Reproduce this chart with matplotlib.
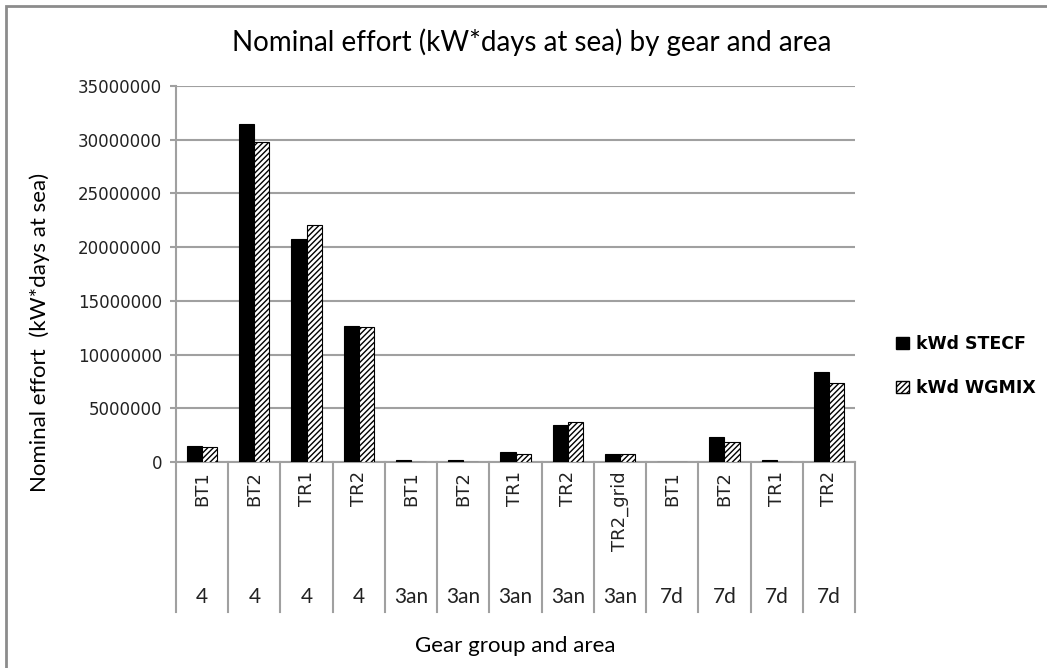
import matplotlib
matplotlib.use('Agg')
import matplotlib.pyplot as plt
from matplotlib.patches import Patch, Rectangle
from matplotlib.transforms import blended_transform_factory
import numpy as np

gears = ['BT1', 'BT2', 'TR1', 'TR2', 'BT1', 'BT2', 'TR1', 'TR2', 'TR2_grid',
         'BT1', 'BT2', 'TR1', 'TR2']
areas = ['4', '4', '4', '4', '3an', '3an', '3an', '3an', '3an',
         '7d', '7d', '7d', '7d']
kwd_stecf = [1500000, 31500000, 20800000, 12700000, 200000, 150000, 900000,
             3450000, 750000, 0, 2350000, 150000, 8400000]
kwd_wgmix = [1350000, 29800000, 22100000, 12600000, 0, 0, 700000,
             3750000, 750000, 0, 1900000, 0, 7350000]

grid_col = '#a0a0a0'
calibri = ['Lato', 'DejaVu Sans']

fig = plt.figure(figsize=(10.47, 6.68), dpi=100)
ax = fig.add_axes([176 / 1047, 1 - 462 / 668, 679 / 1047, 376 / 668])

x = np.arange(len(gears))
w = 0.29
ax.bar(x - w / 2, kwd_stecf, w, color='black', edgecolor='black', lw=0.8,
       zorder=3)
ax.bar(x + w / 2, kwd_wgmix, w, color='white', edgecolor='black', lw=0.8,
       hatch='//////', zorder=3)

ax.set_xlim(-0.5, len(gears) - 0.5)
ax.set_ylim(0, 35000000)
ax.set_yticks(np.arange(0, 35000001, 5000000))
ax.set_yticklabels([str(v) for v in range(0, 35000001, 5000000)],
                   fontsize=12, color='#222222')
ax.yaxis.grid(True, color=grid_col, lw=1.5, zorder=0)
ax.tick_params(axis='y', length=4.3, width=1.5, color=grid_col, pad=5.8)
ax.set_xticks([])
for s in ('top', 'right'):
    ax.spines[s].set_visible(False)
for s in ('left', 'bottom'):
    ax.spines[s].set_color(grid_col)
    ax.spines[s].set_linewidth(1.5)

# two level category axis
tr = blended_transform_factory(ax.transData, ax.transAxes)
depth = (612 - 462) / 376
for i in range(len(gears) + 1):
    ax.plot([i - 0.5, i - 0.5], [0, -depth], transform=tr, color=grid_col,
            lw=1.5, clip_on=False)
for i, (g, a) in enumerate(zip(gears, areas)):
    ax.text(i, -9 / 376, g, transform=tr, rotation=90, ha='center', va='top',
            fontsize=13, color='#222222')
    ax.text(i, -(597 - 462) / 376, a, transform=tr, ha='center',
            va='center', fontsize=15, family=calibri, color='#222222')

fig.text(515 / 1047, 1 - 646 / 668, 'Gear group and area', ha='center',
         va='center', fontsize=16, family=calibri)
fig.text(40 / 1047, 1 - 332 / 668, 'Nominal effort  (kW*days at sea)',
         rotation=90, ha='center', va='center', fontsize=16, family=calibri)
fig.text(532 / 1047, 1 - 42 / 668,
         'Nominal effort (kW*days at sea) by gear and area', ha='center',
         va='center', fontsize=20, family=calibri)

handles = [Patch(facecolor='black', edgecolor='black', label='kWd STECF'),
           Patch(facecolor='white', edgecolor='black', hatch='//////',
                 label='kWd WGMIX')]
fig.legend(handles=handles, loc='center left',
           bbox_to_anchor=(880 / 1047, 1 - 366 / 668), frameon=False,
           handlelength=0.75, handleheight=0.75, handletextpad=0.4,
           labelspacing=1.5, prop={'weight': 'bold', 'size': 12.5})

fig.patches.append(Rectangle((6 / 1047, -0.05), 1.1, 1 - 6 / 668 + 0.05,
                             transform=fig.transFigure, fill=False,
                             edgecolor='#8c8c8c', lw=2))

fig.savefig('out.png', dpi=100)
